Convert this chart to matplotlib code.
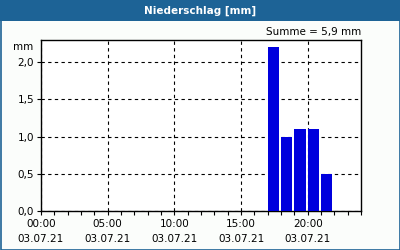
import matplotlib.pyplot as plt
from matplotlib.patches import Rectangle

# Daten: Stundenwerte Niederschlag am 03.07.21
hours = [17, 18, 19, 20, 21]
values = [2.2, 1.0, 1.1, 1.1, 0.5]
tick_hours = [0, 5, 10, 15, 20]
tick_labels = ["00:00\n03.07.21", "05:00\n03.07.21", "10:00\n03.07.21",
               "15:00\n03.07.21", "20:00\n03.07.21"]
y_ticks = [0.0, 0.5, 1.0, 1.5, 2.0]

blue_frame = "#1d6396"
bg = "#fbfdfb"

fig = plt.figure(figsize=(4, 2.5), dpi=100, facecolor=bg)

# Titelleiste + Rahmen
fig.patches.append(Rectangle((0, 1 - 21 / 250), 1, 21 / 250, transform=fig.transFigure,
                             facecolor=blue_frame, edgecolor="none", zorder=0))
fig.patches.append(Rectangle((0.5 / 400, 0.5 / 250), 399 / 400, 249 / 250,
                             transform=fig.transFigure, facecolor="none",
                             edgecolor=blue_frame, linewidth=1.2, zorder=0))
fig.text(0.5, 1 - 10.5 / 250, "Niederschlag [mm]", color="white", fontsize=7.5,
         fontweight="bold", ha="center", va="center")

ax = fig.add_axes([41 / 400, 39 / 250, 320 / 400, 171 / 250])
ax.set_facecolor("white")

ax.bar(hours, values, width=0.85, align="edge", color="#0000dd", zorder=3)

ax.set_xlim(0, 24)
ax.set_ylim(0, 2.3)
ax.set_xticks(tick_hours)
ax.set_xticklabels(tick_labels, fontsize=7.5, linespacing=1.6)
ax.set_xticks(range(25), minor=True)
ax.set_yticks(y_ticks)
ax.set_yticklabels([f"{v:.1f}".replace(".", ",") for v in y_ticks], fontsize=7.5)

ax.tick_params(axis="x", which="both", direction="out", length=3, width=0.8, pad=3)
ax.tick_params(axis="y", direction="out", length=3, width=0.8, pad=2)
ax.grid(True, which="major", color="black", linestyle=(0, (3, 3)), linewidth=0.8, zorder=1)
for s in ax.spines.values():
    s.set_linewidth(1)

fig.text(23 / 400, 1 - 47 / 250, "mm", fontsize=7.5, ha="center", va="center")
fig.text(361 / 400, 1 - 32 / 250, "Summe = 5,9 mm", fontsize=7.5, ha="right", va="center")

fig.savefig("out.png", dpi=100, facecolor=bg)
